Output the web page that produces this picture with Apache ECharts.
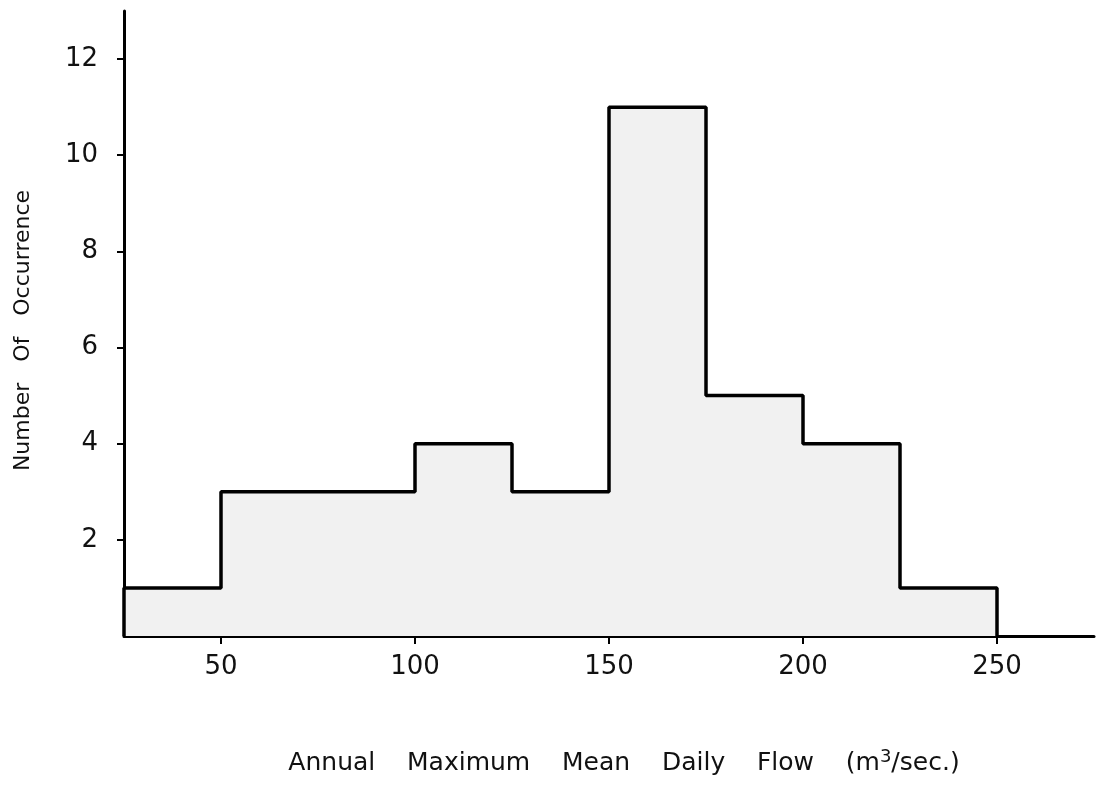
<!DOCTYPE html>
<html>
<head>
<meta charset="utf-8">
<script src="https://cdn.jsdelivr.net/npm/echarts@6/dist/echarts.min.js"></script>
<style>
  html, body { margin: 0; padding: 0; background: #fff; }
  #chart { width: 1096px; height: 791px; }
</style>
</head>
<body>
<div id="chart"></div>
<script>
// bin edges (m3/sec) and counts per bin
const binEdges = [25, 50, 75, 100, 125, 150, 175, 200, 225, 250]
const counts = [1, 3, 3, 4, 3, 11, 5, 4, 1]
const xTicks = [50, 100, 150, 200, 250]
const yTicks = [2, 4, 6, 8, 10, 12]

// step outline of the histogram
const outline = [[binEdges[0], 0]]
counts.forEach((c, i) => {
    outline.push([binEdges[i], c])
    outline.push([binEdges[i + 1], c])
})
outline.push([binEdges[binEdges.length - 1], 0])

const font = 'DejaVu Sans'
const chart = echarts.init(document.getElementById('chart'))
chart.setOption({
    animation: false,
    grid: { left: 124, right: 2, top: 11, bottom: 155 },
    xAxis: {
        type: 'value',
        min: 25,
        max: 275,
        name: 'Annual    Maximum    Mean    Daily    Flow    (m{sup|3}/sec.)',
        nameLocation: 'middle',
        nameGap: 112,
        nameTextStyle: {
            fontFamily: font, fontSize: 25, color: '#111',
            padding: [0, 0, 0, 30],
            rich: { sup: { fontFamily: font, fontSize: 18, color: '#111', verticalAlign: 'top', padding: [0, 0, 12, 0] } }
        },
        axisLine: { lineStyle: { color: '#000', width: 3 } },
        axisTick: { customValues: xTicks, length: 8, inside: false, lineStyle: { color: '#000', width: 2 } },
        axisLabel: { customValues: xTicks, fontFamily: font, fontSize: 26, color: '#111', margin: 18 },
        splitLine: { show: false }
    },
    yAxis: {
        type: 'value',
        min: 0,
        max: 13,
        name: 'Number   Of   Occurrence',
        nameLocation: 'middle',
        nameGap: 90,
        nameRotate: 90,
        nameTextStyle: { fontFamily: font, fontSize: 22, color: '#111', padding: [0, 14, 0, 0] },
        axisLine: { lineStyle: { color: '#000', width: 3 } },
        axisTick: { customValues: yTicks, length: 7, lineStyle: { color: '#000', width: 2 } },
        axisLabel: { customValues: yTicks, fontFamily: font, fontSize: 26, color: '#111', margin: 26 },
        splitLine: { show: false }
    },
    series: [{
        type: 'line',
        data: outline,
        symbol: 'none',
        lineStyle: { color: '#000', width: 3.5 },
        areaStyle: { color: '#f1f1f1', opacity: 1 }
    }]
})
</script>
</body>
</html>
